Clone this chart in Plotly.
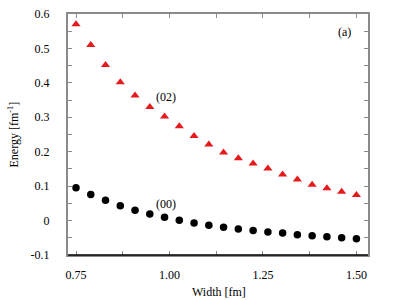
import plotly.graph_objects as go

width_fm = [0.75, 0.7895, 0.8289, 0.8684, 0.9079, 0.9474, 0.9868, 1.0263, 1.0658, 1.1053,
            1.1447, 1.1842, 1.2237, 1.2632, 1.3026, 1.3421, 1.3816, 1.4211, 1.4605, 1.50]
energy_02 = [0.570, 0.510, 0.452, 0.402, 0.363, 0.330, 0.302, 0.274, 0.246, 0.221,
             0.198, 0.181, 0.166, 0.151, 0.134, 0.119, 0.104, 0.094, 0.084, 0.074]
energy_00 = [0.095, 0.076, 0.059, 0.043, 0.030, 0.019, 0.0095, 0.001, -0.007, -0.0137,
             -0.0195, -0.0245, -0.029, -0.033, -0.036, -0.041, -0.044, -0.047, -0.050, -0.0526]
y_tickvals = [-0.1, 0, 0.1, 0.2, 0.3, 0.4, 0.5, 0.6]
y_ticktext = ["-0.1", "0", "0.1", "0.2", "0.3", "0.4", "0.5", "0.6"]
x_tickvals = [0.75, 1.00, 1.25, 1.50]
x_ticktext = ["0.75", "1.00", "1.25", "1.50"]

font = "Liberation Serif"
gray = "#8a8a8a"

fig = go.Figure()
fig.add_trace(go.Scatter(x=width_fm, y=energy_02, mode="markers",
                         marker=dict(symbol="triangle-up", size=8, color="#e41a1c", line=dict(width=0)),
                         showlegend=False))
fig.add_trace(go.Scatter(x=width_fm, y=energy_00, mode="markers",
                         marker=dict(symbol="circle", size=7.5, color="black", line=dict(width=0)),
                         showlegend=False))

fig.update_layout(
    width=400, height=300,
    margin=dict(l=68, r=32, t=14, b=45),
    paper_bgcolor="white", plot_bgcolor="white",
    font=dict(family=font, size=12, color="black"),
    xaxis=dict(range=[0.7286, 1.531], showgrid=False, zeroline=False, automargin=False,
               showline=True, linecolor=gray, linewidth=1.5, mirror="allticks",
               tickvals=x_tickvals, ticktext=x_ticktext, tickfont=dict(family=font, size=12),
               ticks="inside", ticklen=4, tickcolor=gray, tickwidth=1,
               minor=dict(dtick=0.125, tick0=0.75, ticks="inside", ticklen=4, tickcolor=gray, showgrid=False),
               ticklabelstandoff=8),
    yaxis=dict(range=[-0.1, 0.6], showgrid=False, zeroline=False, automargin=False,
               showline=True, linecolor=gray, linewidth=2, mirror="allticks",
               tickvals=y_tickvals, ticktext=y_ticktext, tickfont=dict(family=font, size=12),
               ticks="inside", ticklen=4, tickcolor=gray, tickwidth=1,
               minor=dict(dtick=0.05, tick0=0, ticks="inside", ticklen=4, tickcolor=gray, showgrid=False),
               ticklabelstandoff=14),
    shapes=[
        dict(type="line", xref="paper", yref="paper", x0=0, x1=1, y0=0, y1=0,
             line=dict(color="black", width=1.5), layer="above"),
    ],
    annotations=[
        dict(text="(02)", x=0.99, y=0.360, xref="x", yref="y", showarrow=False, font=dict(size=12)),
        dict(text="(00)", x=0.99, y=0.049, xref="x", yref="y", showarrow=False, font=dict(size=12)),
        dict(text="(a)", x=1.468, y=0.547, xref="x", yref="y", showarrow=False, font=dict(size=12)),
        dict(text="Width [fm]", x=(219 - 68) / 300, y=-(291.7 - 255) / 241, xref="paper", yref="paper",
             yanchor="middle", showarrow=False, font=dict(size=12)),
        dict(text="Energy [fm<sup>-1</sup>]", x=-(68 - 13) / 300, y=0.5, xref="paper", yref="paper",
             xanchor="center", showarrow=False, textangle=-90, font=dict(size=12)),
    ],
)

fig.write_html("out.html", config={"displayModeBar": False},
               post_script="document.body.style.margin='0';")
